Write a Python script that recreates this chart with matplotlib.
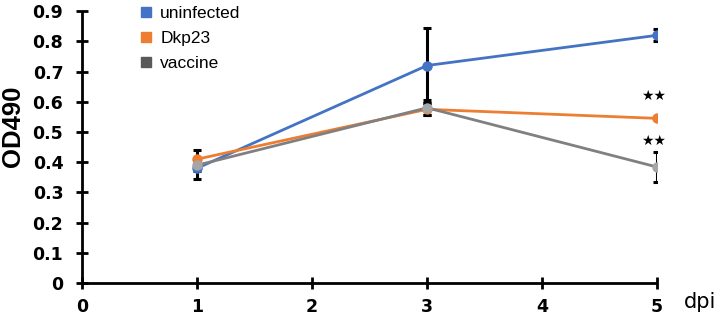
import matplotlib
matplotlib.use("Agg")
import matplotlib.pyplot as plt
from matplotlib.lines import Line2D

plt.rcParams['font.family'] = ['Liberation Sans', 'DejaVu Sans']

days = [1, 3, 5]
series_names = ["uninfected", "Dkp23", "vaccine"]
uninfected = [0.38, 0.72, 0.82]
uninfected_err = [0.035, 0.125, 0.02]
dkp23 = [0.41, 0.575, 0.545]
dkp23_err = [0.03, 0.02, 0.0]
vaccine = [0.39, 0.58, 0.384]
vaccine_err = [0.02, 0.025, 0.05]
xticks = [0, 1, 2, 3, 4, 5]
yticks = [0, 0.1, 0.2, 0.3, 0.4, 0.5, 0.6, 0.7, 0.8, 0.9]
star_y = [0.62, 0.47]

line_colors = ["#4472C4", "#ED7D31", "#808080"]
marker_colors = ["#4472C4", "#ED7D31", "#A6A6A6"]
legend_colors = ["#4472C4", "#ED7D31", "#595959"]

fig = plt.figure(figsize=(7.2, 3.18), dpi=100)
ax = fig.add_axes([0.114, 0.110, 0.7986, 0.855])

data = [uninfected, dkp23, vaccine]
errs = [uninfected_err, dkp23_err, vaccine_err]
for vals, e in zip(data, errs):
    ax.errorbar(days, vals, yerr=e, fmt='none', ecolor='black', elinewidth=2.2,
                capsize=3, capthick=2.2, zorder=2)
for vals, lc, mc in zip(data, line_colors, marker_colors):
    ax.plot(days, vals, color=lc, lw=2.0, marker='o', ms=6.5,
            markerfacecolor=mc, markeredgecolor=mc, zorder=3)

for y in star_y:
    ax.text(4.97, y, "★★", ha='center', va='center', fontsize=10,
            family=['DejaVu Sans'])

ax.set_xlim(0, 5)
ax.set_ylim(0, 0.9)
ax.set_xticks(xticks)
ax.set_yticks(yticks)
ax.set_xticklabels([str(t) for t in xticks], fontsize=12.5, fontweight='bold',
                   family=['DejaVu Sans'])
ax.set_yticklabels([("0" if t == 0 else f"{t:.1f}") for t in yticks], fontsize=12.5,
                   fontweight='bold', family=['DejaVu Sans'])
ax.tick_params(axis='both', direction='inout', length=9, width=2, color='black')
ax.tick_params(axis='x', pad=6.5)
ax.tick_params(axis='y', pad=9)
for s in ['top', 'right']:
    ax.spines[s].set_visible(False)
for s in ['left', 'bottom']:
    ax.spines[s].set_linewidth(2)
    ax.spines[s].set_capstyle('butt')
fig.text(13 / 720, 1 - 126 / 318, "OD490", fontsize=18.5, fontweight='bold',
         rotation=90, ha='center', va='center')
fig.text(684 / 720, 1 - 302 / 318, "dpi", fontsize=15, ha='left', va='center',
         family=['DejaVu Sans'])

handles = [Line2D([], [], ls='none', marker='s', ms=7, color=c) for c in legend_colors]
leg = ax.legend(handles, series_names, loc='upper left', bbox_to_anchor=(0.184, 1.008),
                bbox_transform=fig.transFigure, frameon=False, fontsize=12.5,
                handlelength=0.6, handletextpad=0.5, labelspacing=0.55, borderpad=0)

fig.savefig("out.png", dpi=100)
